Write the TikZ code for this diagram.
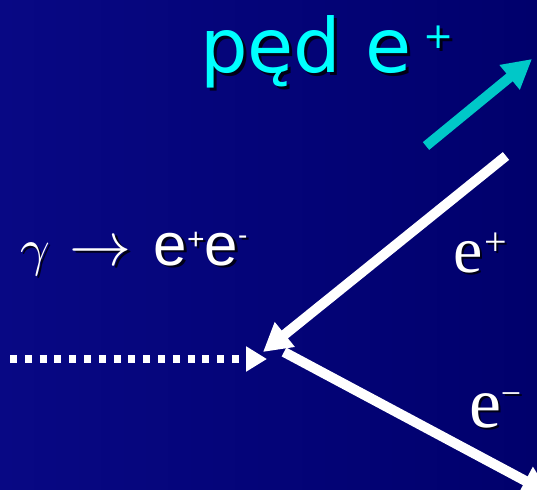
\documentclass[tikz,border=0pt]{standalone}
\usepackage{graphicx}
\usepackage{fontspec}
\setmainfont{DejaVu Sans}
\newfontfamily\serifl{Liberation Serif}
\newfontfamily\sansl{Liberation Sans}
\usetikzlibrary{arrows.meta}
\definecolor{bgl}{RGB}{8,8,132}
\definecolor{bgr}{RGB}{0,0,108}
\definecolor{cyantext}{RGB}{0,255,255}
\definecolor{cyanarrow}{RGB}{0,200,200}
\tikzset{
  lbl/.style={inner sep=0pt, outer sep=0pt, anchor=base west},
  shadowtxt/.style={lbl, text=black, opacity=0.8},
  fatline/.style={white, line width=10pt},
}
\newcommand{\pedtext}{\fontsize{75}{75}\selectfont p\k{e}d e\hspace{12pt}\raisebox{24pt}{\fontsize{36}{36}\selectfont +}}
\newcommand{\gammatext}{\scalebox{5.2}{\fontsize{10}{12}\selectfont$\gamma$}\hspace{20pt}\scalebox{6.2}{\fontsize{10}{12}\selectfont$\rightarrow$}\hspace{22pt}\fontsize{60}{60}\selectfont\sansl e\raisebox{16pt}{\fontsize{30}{30}\selectfont +}e\raisebox{21pt}{\fontsize{28}{28}\selectfont -}}
\newcommand{\eplustext}{\serifl\fontsize{66}{66}\selectfont e\hspace{2pt}\raisebox{17pt}{\fontsize{40}{40}\selectfont +}}
\newcommand{\eminustext}{\serifl\fontsize{72}{72}\selectfont e\raisebox{22pt}{\fontsize{36}{36}\selectfont −}}
\begin{document}
\begin{tikzpicture}[x=1pt,y=-1pt]
\useasboundingbox (0,0) rectangle (537,489);
\clip (0,0) rectangle (537,489);
\shade[left color=bgl, right color=bgr] (0,0) rectangle (537,489);
% coordinates
\coordinate (v) at (284,352);
\coordinate (pstart) at (506,156);
\coordinate (ptip) at (263,352);
\coordinate (mtip) at (550,494);
\coordinate (gstart) at (10,359);
\coordinate (gtip) at (267,359);
\coordinate (cstart) at (426,146);
\coordinate (ctip) at (532,59);
% texts with shadows
\node[shadowtxt] (pedS) at (203,76) {\pedtext};
\node[lbl, text=cyantext] (ped) at (200,73) {\pedtext};
\node[shadowtxt] (gamS) at (22.5,267.5) {\gammatext};
\node[lbl, text=white] (gam) at (20,265) {\gammatext};
\node[shadowtxt] (epS) at (455.5,274.5) {\eplustext};
\node[lbl, text=white] (ep) at (453,272) {\eplustext};
\node[shadowtxt] (emS) at (471.5,429.5) {\eminustext};
\node[lbl, text=white] (em) at (469,427) {\eminustext};
% arrows
\draw[cyanarrow, line width=10pt, -{Triangle[length=29pt,width=30pt]}] (cstart) -- (ctip);
\draw[fatline, -{Triangle[length=28pt,width=30pt]}] (pstart) -- (ptip);
\draw[fatline, -{Triangle[length=28pt,width=30pt]}] (v) -- (mtip);
\draw[white, line width=8pt, dash pattern=on 7pt off 7.8pt, -{Triangle[length=21pt,width=24pt]}] (gstart) -- (gtip);
\end{tikzpicture}
\end{document}
